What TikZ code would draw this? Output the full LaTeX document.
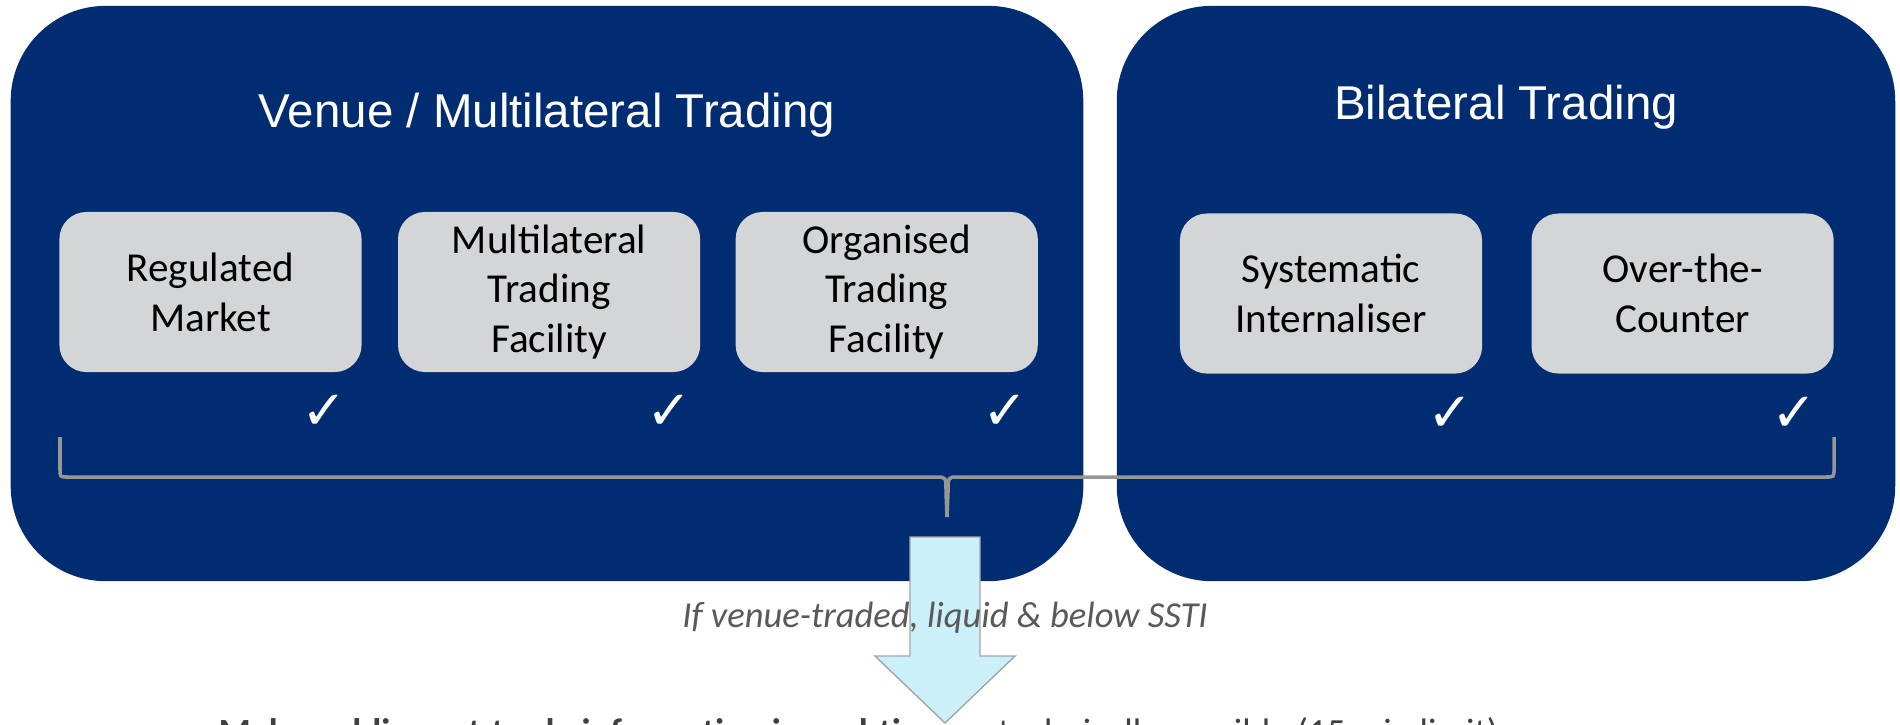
\documentclass[tikz,border=0pt]{standalone}
\usepackage{fontspec}
\usepackage{tikz}
\usetikzlibrary{positioning}
\setmainfont{Carlito}
\newfontfamily\headFont{Liberation Sans}
\newfontfamily\tickFont{DejaVu Sans}
\definecolor{venueBlue}{RGB}{0,45,114}
\definecolor{boxGrey}{RGB}{212,213,215}
\definecolor{braceGrey}{RGB}{150,150,150}
\definecolor{arrowFill}{RGB}{204,240,250}
\definecolor{arrowLine}{RGB}{165,165,165}
\definecolor{noteGrey}{RGB}{89,89,89}
\definecolor{ruleGrey}{RGB}{64,64,64}
\tikzstyle{pixels} = [x = 0.01cm, y = -0.01cm]
\tikzstyle{bigBox} = [fill=venueBlue, rounded corners = .95cm, inner sep = 0, minimum height = 5.75cm]
\tikzstyle{heading} = [text=white, anchor=base, font=\headFont\fontsize{13.5}{16}\selectfont]
\tikzstyle{typeBox} = [fill=boxGrey, rounded corners = .27cm, minimum width = 3.02cm, minimum height = 1.6cm, align=center, inner sep = 0, font=\fontsize{11.7}{14.2}\selectfont]
\tikzstyle{tickMark} = [text=white, font=\tickFont\fontsize{15.5}{15.5}\selectfont, inner sep = 0]
\tikzstyle{braceLine} = [color=braceGrey, line width = 1pt]
\tikzstyle{arrowStyle} = [fill=arrowFill, draw=arrowLine, line width = .4pt]
\newcommand{\typeBox}[3]{\node [typeBox, #2] (#1) {#3};}

\begin{document}
\begin{tikzpicture}[pixels]
  \useasboundingbox (0,0) rectangle (1900,724);

  \node [bigBox, minimum width = 10.72cm] (venue) at (547,293.5) {};
  \node [bigBox, minimum width = 7.78cm] (bilateral) at (1506,293.5) {};
  \node [heading] (venueTitle) at (547,127) {Venue / Multilateral Trading};
  \node [heading] (bilateralTitle) at (1506,119) {Bilateral Trading};

  \typeBox{reg}{at={(210.5,292)}}{Regulated\\Market}
  \typeBox{mtf}{right = .35cm of reg}{Multilateral\\Trading\\Facility}
  \typeBox{otf}{right = .34cm of mtf}{Organised\\Trading\\Facility}
  \typeBox{si}{at={(1331,293.5)}}{Systematic\\Internaliser}
  \typeBox{otc}{right = .48cm of si}{Over-the-\\Counter}

  \foreach \cell/\dx in {reg/-38, mtf/-32, otf/-33, si/-32, otc/-40} {
    \node [tickMark] (tick-\cell) at ([shift={(\dx,40)}]\cell.south east) {✓};
  }

  \coordinate (braceL) at (60,437);
  \coordinate (braceR) at (1834,437);
  \coordinate (braceTip) at (947,517);
  \draw [braceLine] (braceL) -- (60,469) .. controls (60,477) .. (68,477) -- (936,477) .. controls (946,477) .. (946,492) -- (braceTip);
  \draw [braceLine] (braceR) -- (1834,469) .. controls (1834,477) .. (1826,477) -- (958,477) .. controls (948,477) .. (948,492) -- (braceTip);

  \coordinate (arrowTip) at (945,723);
  \draw [arrowStyle] (910,537) -- (980,537) -- (980,656) -- (1015,656) -- (arrowTip) -- (875,656) -- (910,656) -- cycle;

  \node [anchor=base, text=noteGrey, font=\itshape\fontsize{10.4}{12}\selectfont] (condition) at (945,627) {If venue-traded, liquid \& below SSTI};
  \node [anchor=base west, text=ruleGrey, inner sep = 0, font=\fontsize{10.5}{12}\selectfont] (rule) at (218,744) {\textbf{Make public post-trade information in real-time} as technically possible (15 min limit)};
\end{tikzpicture}
\end{document}
